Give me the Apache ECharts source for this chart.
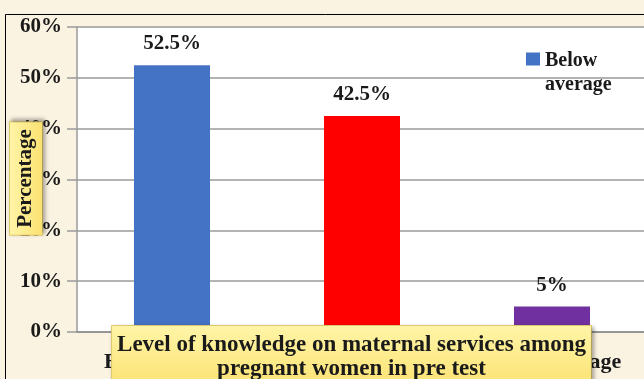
<!DOCTYPE html>
<html>
<head>
<meta charset="utf-8">
<script src="https://cdn.jsdelivr.net/npm/echarts@6/dist/echarts.min.js"></script>
<style>
  html, body { margin: 0; padding: 0; background: #fbf3e2; }
  #chart { width: 644px; height: 379px; }
</style>
</head>
<body>
<div id="chart"></div>
<script>
// ---- data ----
const categories = ['Below average', 'Average', 'Above average']
const percentValues = [52.5, 42.5, 5]
const barColors = ['#4472c4', '#ff0000', '#7030a0']
const yTicks = [0, 10, 20, 30, 40, 50, 60]
const legendName = 'Below average'
const xTitle = 'Level of knowledge on maternal services among\npregnant women in pre test'
const yTitle = 'Percentage'

const serif = '"Liberation Serif", "Times New Roman", serif'
const boxFill = (horizontal) => ({
  type: 'linear', x: 0, y: 0, x2: horizontal ? 1 : 0, y2: horizontal ? 0 : 1,
  colorStops: [{ offset: 0, color: '#fff5a8' }, { offset: 1, color: '#fbe170' }]
})

const chart = echarts.init(document.getElementById('chart'))

chart.setOption({
  backgroundColor: 'transparent',
  animation: false,
  graphic: [
    // outer frame (only top + left edge fall inside the picture)
    {
      type: 'rect', z: -10, silent: true,
      shape: { x: 5.5, y: 14.5, width: 700, height: 400 },
      style: { fill: 'transparent', stroke: '#000', lineWidth: 1 }
    },
    // y axis title box (drawn above the tick labels, as in the original)
    {
      type: 'text', z: 100, x: 26, y: 178.5, rotation: Math.PI / 2,
      style: {
        text: yTitle,
        font: 'bold 21px ' + serif,
        fill: '#1a1a1a',
        align: 'center',
        verticalAlign: 'middle',
        backgroundColor: boxFill(false),
        borderColor: '#e3cf70',
        borderWidth: 1,
        padding: [5, 7, 6, 7],
        shadowColor: 'rgba(0,0,0,0.3)',
        shadowBlur: 4,
        shadowOffsetX: 2,
        shadowOffsetY: -2
      }
    },
    // x axis title box
    {
      type: 'text', z: 100, x: 351.5, y: 326,
      style: {
        text: xTitle,
        font: 'bold 23px ' + serif,
        fill: '#1a1a1a',
        align: 'center',
        verticalAlign: 'top',
        lineHeight: 24,
        backgroundColor: boxFill(false),
        borderColor: '#e3cf70',
        borderWidth: 1,
        padding: [7, 5, 8, 5],
        shadowColor: 'rgba(0,0,0,0.3)',
        shadowBlur: 4,
        shadowOffsetX: 2,
        shadowOffsetY: 2
      }
    }
  ],
  grid: {
    show: true,
    left: 77, top: 27, right: -3, bottom: 47,
    outerBoundsMode: 'none',
    containLabel: false,
    backgroundColor: '#ffffff',
    borderWidth: 0
  },
  legend: {
    left: 526, top: 30,
    padding: 0,
    itemWidth: 14, itemHeight: 13,
    icon: 'rect',
    data: [legendName],
    formatter: () => '{pad| }\n{t|Below}\n{t|average}',
    textStyle: {
      rich: {
        pad: { fontSize: 10, lineHeight: 28 },
        t: { fontFamily: serif, fontWeight: 'bold', fontSize: 20, color: '#1a1a1a', lineHeight: 24 }
      }
    }
  },
  xAxis: {
    type: 'category',
    data: categories,
    axisLine: { lineStyle: { color: '#8c8c8c', width: 1.5 } },
    axisTick: { show: false },
    axisLabel: {
      margin: 19,
      fontFamily: serif, fontWeight: 'bold', fontSize: 22, color: '#1a1a1a'
    }
  },
  yAxis: {
    type: 'value',
    min: yTicks[0], max: yTicks[yTicks.length - 1], interval: 10,
    axisLine: { show: true, lineStyle: { color: '#9a9a9a', width: 1.5 } },
    axisTick: { show: true, length: 10, lineStyle: { color: '#9a9a9a', width: 1.5 } },
    splitLine: { lineStyle: { color: '#9a9a9a', width: 1.5 } },
    axisLabel: {
      margin: 15,
      formatter: v => v + '%',
      fontFamily: serif, fontWeight: 'bold', fontSize: 21, color: '#1a1a1a'
    }
  },
  series: [{
    name: legendName,
    type: 'bar',
    barWidth: '40%',
    itemStyle: { color: barColors[0] },
    data: percentValues.map((v, i) => ({ value: v, itemStyle: { color: barColors[i] } })),
    label: {
      show: true,
      position: 'top',
      distance: 11,
      formatter: p => p.value + '%',
      fontFamily: serif, fontWeight: 'bold', fontSize: 21, color: '#1a1a1a'
    }
  }]
})
</script>
</body>
</html>
